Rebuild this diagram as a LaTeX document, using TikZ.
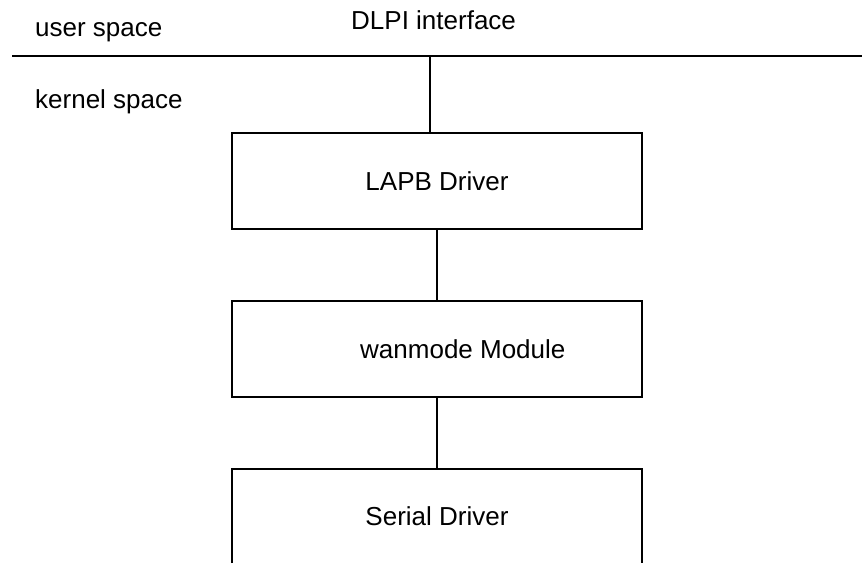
\documentclass[tikz,border=0pt]{standalone}
\usepackage{fontspec}
\setmainfont{Liberation Sans}
\usetikzlibrary{positioning,calc}
\definecolor{Ink}{HTML}{000000}
\tikzset{
  layer/.style={draw=Ink,fill=white,line width=2pt,minimum width=410pt,minimum height=96pt,inner sep=0pt,align=center},
  openlayer/.style={minimum width=410pt,minimum height=94pt,inner sep=0pt,align=center},
  tag/.style={anchor=base west,inner sep=0pt},
  link/.style={draw=Ink,line width=2pt},
  divider/.style={draw=Ink,line width=2.4pt}
}

\begin{document}
\begin{tikzpicture}[x=1pt,y=-1pt,font=\fontsize{26}{30}\selectfont]
      \useasboundingbox (0,0) rectangle (862,563);
      % user / kernel boundary
      \coordinate (edgeL) at (12,56);
      \coordinate (edgeR) at (862,56);
      \draw[divider] (edgeL) -- (edgeR);
      \node[tag] (user) at (35,36) {user space};
      \node[tag] (dlpi) at (351,29) {DLPI interface};
      \node[tag] (kernel) at (35,108) {kernel space};
      % stack of modules
      \node[layer] (lapb) at (437,181) {LAPB Driver};
      \node[layer] (wan) at (437,349) {};
      \node[tag] (wanlbl) at (360,358) {wanmode Module};
      \node[openlayer] (serial) at (437,516) {Serial Driver};
      \draw[link] (serial.south west) -- (serial.north west) -- (serial.north east) -- (serial.south east);
      \coordinate (entry) at (430,56);
      \draw[link] (entry) -- (entry |- lapb.north);
      \draw[link] (lapb) -- (wan);
      \draw[link] (wan) -- (serial.north);
    \end{tikzpicture}
\end{document}
